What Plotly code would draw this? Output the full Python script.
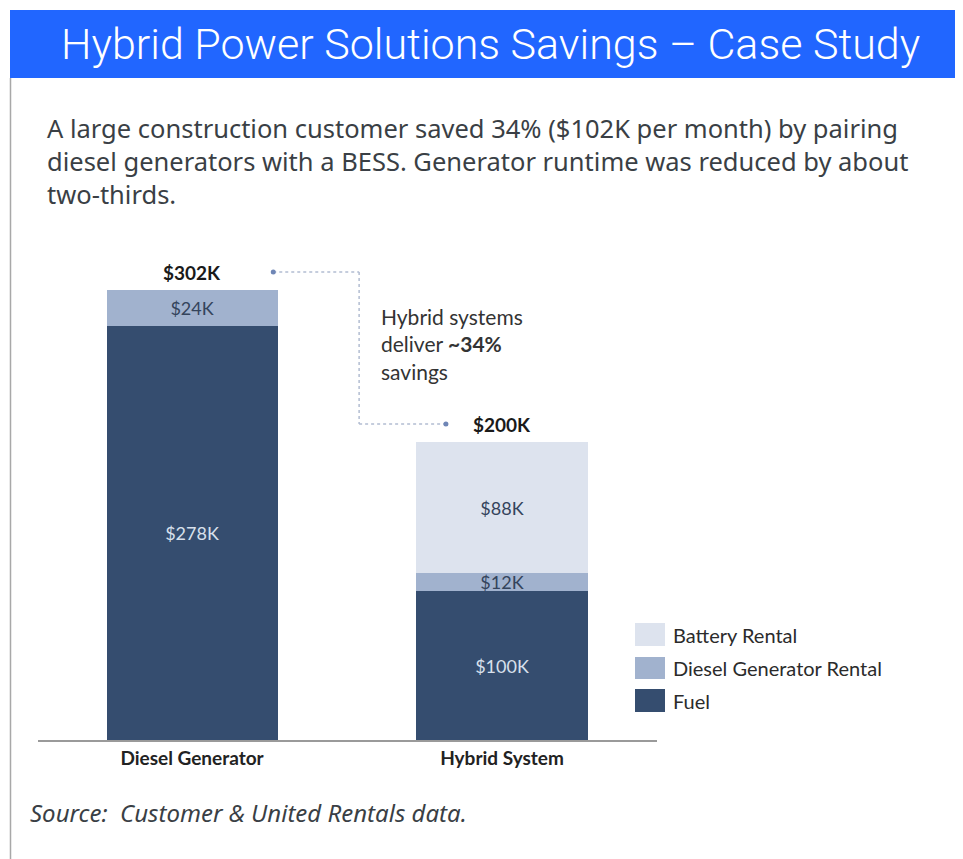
import plotly.graph_objects as go

# ---------------- data ----------------
categories = ["Diesel Generator", "Hybrid System"]
series_names = ["Fuel", "Diesel Generator Rental", "Battery Rental"]
fuel = [278, 100]
gen_rental = [24, 12]
battery = [None, 88]
series_values = [fuel, gen_rental, battery]
series_colors = ["#354d6f", "#a1b2ce", "#dde3ee"]
label_colors = ["#d8e0ec", "#34445c", "#34445c"]

title_text = "Hybrid Power Solutions Savings \u2013 Case Study"
subtitle_lines = [
    "A large construction customer saved 34% ($102K per month) by pairing",
    "diesel generators with a BESS. Generator runtime was reduced by about",
    "two-thirds.",
]
callout_text = "Hybrid systems<br>deliver <b>~34%</b><br>savings"
source_text = "Source:  Customer &amp; United Rentals data."

totals = [sum(v[i] or 0 for v in series_values) for i in range(len(categories))]

# ---------------- layout helpers (reference pixels -> paper) ----------------
W, H = 963, 859
OFF = 8  # page body margin
def fx(px):
    return (px - OFF) / W
def fy(py):
    return 1 - (py - OFF) / H

Y_BASE = 740
PX_PER_K = 1.49
Y_MAX = 330
y_top_px = Y_BASE - Y_MAX * PX_PER_K

CHART_FONT = "Lato, 'Open Sans', sans-serif"

fig = go.Figure()
for name, vals, col, lcol in zip(series_names, series_values, series_colors, label_colors):
    fig.add_trace(go.Bar(
        name=name,
        x=categories,
        y=vals,
        marker=dict(color=col, line=dict(width=0)),
        width=0.552,
        text=[f"${v}K" if v else "" for v in vals],
        textposition="inside",
        insidetextanchor="middle",
        textangle=0,
        textfont=dict(color=lcol, size=18, family=CHART_FONT),
        hoverinfo="skip",
        showlegend=False,
    ))

shapes = []
annotations = []

# header bar & left rule
shapes.append(dict(type="rect", xref="paper", yref="paper",
                   x0=fx(10), x1=1.0, y0=fy(78), y1=fy(10),
                   fillcolor="#2166ff", line=dict(width=0), layer="below"))
shapes.append(dict(type="line", xref="paper", yref="paper",
                   x0=fx(10.5), x1=fx(10.5), y0=0, y1=fy(78),
                   line=dict(color="#a8a8a8", width=1.5)))

annotations.append(dict(text=title_text, xref="paper", yref="paper",
                        x=fx(490), y=fy(44), xanchor="center", yanchor="middle",
                        showarrow=False,
                        font=dict(family="Roboto, sans-serif", size=43, color="white", weight=300)))
annotations.append(dict(text="<br>".join(subtitle_lines), xref="paper", yref="paper",
                        x=fx(45), y=fy(161), xanchor="left", yanchor="middle", align="left",
                        showarrow=False,
                        font=dict(family="'Noto Sans', sans-serif", size=25.5, color="#3a3f45")))
annotations.append(dict(text=source_text, xref="paper", yref="paper",
                        x=fx(28), y=fy(812), xanchor="left", yanchor="middle",
                        showarrow=False,
                        font=dict(family="'Noto Sans', sans-serif", size=24, color="#3a3f45", style="italic")))

# totals above bars
for i, (c, t) in enumerate(zip(categories, totals)):
    annotations.append(dict(text=f"<b>${t}K</b>", xref="x", yref="y", x=i, y=t,
                            xanchor="center", yanchor="middle", yshift=18,
                            showarrow=False,
                            font=dict(family=CHART_FONT, size=19, color="#1a1a1a")))

# connector between totals
off = 18 / PX_PER_K
xa, xm, xb = 0.262, 0.539, 0.819
ya, yb = totals[0] + off, totals[1] + off
conn = dict(color="#b3bdd2", width=1.5, dash="dot")
shapes.append(dict(type="line", xref="x", yref="y", x0=xa, x1=xm, y0=ya, y1=ya, line=conn))
shapes.append(dict(type="line", xref="x", yref="y", x0=xm, x1=xm, y0=ya, y1=yb, line=conn))
shapes.append(dict(type="line", xref="x", yref="y", x0=xm, x1=xb, y0=yb, y1=yb, line=conn))
for (xx, yy) in [(xa, ya), (xb, yb)]:
    shapes.append(dict(type="circle", xref="x", yref="y", xsizemode="pixel", ysizemode="pixel",
                       xanchor=xx, yanchor=yy, x0=-2.5, x1=2.5, y0=-2.5, y1=2.5,
                       fillcolor="#6f86b6", line=dict(width=0)))

annotations.append(dict(text=callout_text, xref="paper", yref="paper",
                        x=fx(379), y=fy(344), xanchor="left", yanchor="middle", align="left",
                        showarrow=False,
                        font=dict(family=CHART_FONT, size=21, color="#333333")))

# legend (top to bottom: Battery, Diesel Gen Rental, Fuel)
leg_rows = [(623, 646), (657, 679), (689, 712)]
for (y0, y1), name, col in zip(leg_rows, series_names[::-1], series_colors[::-1]):
    shapes.append(dict(type="rect", xref="paper", yref="paper",
                       x0=fx(635), x1=fx(665), y0=fy(y1), y1=fy(y0),
                       fillcolor=col, line=dict(width=0)))
    annotations.append(dict(text=name, xref="paper", yref="paper",
                            x=fx(671), y=fy((y0 + y1) / 2), xanchor="left", yanchor="middle",
                            showarrow=False,
                            font=dict(family=CHART_FONT, size=20, color="#2b2b2b")))

fig.update_layout(
    width=W, height=H,
    margin=dict(l=0, r=0, t=0, b=0),
    paper_bgcolor="white", plot_bgcolor="white",
    barmode="stack",
    showlegend=False,
    uniformtext=dict(mode="show", minsize=18),
    shapes=shapes,
    annotations=annotations,
    xaxis=dict(domain=[fx(38), fx(657)], range=[-0.497, 1.5],
               showline=True, linecolor="#9a9a9a", linewidth=2,
               showgrid=False, zeroline=False, ticks="",
               tickmode="array", tickvals=categories,
               ticktext=[f"<b>{c}</b>" for c in categories],
               tickfont=dict(family=CHART_FONT, size=19, color="#222222")),
    yaxis=dict(domain=[fy(Y_BASE), fy(y_top_px)], range=[0, Y_MAX],
               visible=False, showgrid=False, zeroline=False),
)

fig.write_html("out.html")
